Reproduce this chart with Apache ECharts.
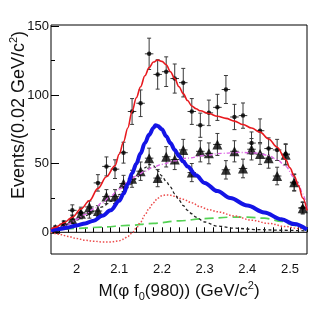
<!DOCTYPE html>
<html><head><meta charset="utf-8">
<script src="https://cdn.jsdelivr.net/npm/echarts@6/dist/echarts.min.js"></script>
<style>html,body{margin:0;padding:0;background:#fff}#c{width:332px;height:318px}</style>
</head><body><div id="c"></div>
<script>
// ---- data ----
const binCenters = [1.95,1.97,1.99,2.01,2.03,2.05,2.07,2.09,2.11,2.13,2.15,2.17,2.19,2.21,2.23,2.25,2.27,2.29,2.31,2.33,2.35,2.37,2.39,2.41,2.43,2.45,2.47,2.49,2.51,2.53];
const crossY   = [3,6,16,14.5,14,36,48,46,58,88,94,130,115,117,112,109,88,78,87,91,104,84,85,65,74,61,60,57,36,18];
const crossErr = [1.7,2.4,4,3.8,3.7,6,6.9,6.8,7.6,9.4,9.7,11.4,10.7,10.8,10.6,10.4,9.4,8.8,9.3,9.5,10.2,9.2,9.2,8.1,8.6,7.8,7.7,7.5,6,4.2];
const triY     = [2.5,5.5,9.5,13.5,18.5,15.5,26,26,35.5,39,44.5,54,39.5,55,53,60,43.5,59,57.5,64,45.5,59,46.5,60.5,57,54,41,56.5,36.5,17.5];
const triErr   = [1.6,2.3,3.1,3.7,4.3,3.9,5.1,5.1,6,6.2,6.7,7.3,6.3,7.4,7.3,7.7,6.6,7.7,7.6,8,6.7,7.7,6.8,7.8,7.5,7.3,6.4,7.5,6,4.2];
const binHalfWidth = 0.01;

const totalFit = [[1.94,2.5],[1.95,3.6],[1.97,7],[1.99,11],[2.01,17],[2.03,23],[2.05,32],[2.07,40.5],[2.09,48.5],[2.10,57],[2.11,66],[2.12,76],[2.13,88],[2.14,98],[2.15,106],[2.16,114],[2.17,120],[2.18,124],[2.19,125.5],[2.20,124.5],[2.21,122],[2.22,117],[2.23,112],[2.24,106],[2.25,101],[2.26,96],[2.27,92],[2.28,90],[2.29,88.5],[2.31,86.5],[2.33,84.5],[2.35,83],[2.37,81],[2.39,78.5],[2.41,76],[2.43,73],[2.45,68],[2.47,62],[2.49,53],[2.50,47],[2.51,41],[2.52,34],[2.53,25],[2.54,16]];
const signalX = [[1.94,1.5],[1.96,2.5],[1.98,3.5],[2.00,5],[2.02,6.5],[2.04,8.5],[2.06,12],[2.08,16],[2.10,23],[2.11,28],[2.12,35],[2.13,43],[2.14,50],[2.15,57.5],[2.16,65],[2.17,71],[2.18,76],[2.185,78],[2.19,77.5],[2.20,75],[2.21,70],[2.22,65],[2.23,60],[2.24,55.5],[2.25,51.5],[2.26,48],[2.28,41.5],[2.30,36],[2.33,30],[2.36,25],[2.40,19.5],[2.44,14.5],[2.48,9.5],[2.51,6],[2.54,2]];
const blackDashed = [[1.94,1.5],[1.96,3.5],[1.98,6],[2.00,9],[2.02,12],[2.04,15],[2.06,18.5],[2.08,22.5],[2.10,27.5],[2.12,33],[2.14,39],[2.15,43],[2.16,47],[2.17,49.5],[2.18,48.5],[2.19,45],[2.20,41],[2.21,37],[2.22,33],[2.23,28],[2.24,23.5],[2.25,19.5],[2.26,16],[2.27,13.5],[2.28,11],[2.30,7.5],[2.33,4.5],[2.37,3],[2.42,2],[2.48,1.5],[2.54,1]];
const magentaCurve = [[1.94,1],[1.96,3],[1.98,6],[2.00,9.5],[2.02,13],[2.04,17],[2.06,21.5],[2.08,26.5],[2.10,31.5],[2.12,36.5],[2.14,41],[2.16,44.5],[2.18,47.5],[2.20,49.5],[2.23,52],[2.26,54],[2.30,56],[2.34,57.5],[2.38,58.2],[2.42,57.8],[2.45,56],[2.47,53],[2.49,48],[2.51,40],[2.52,35],[2.53,28],[2.54,17]];
const greenCurve = [[1.94,1.5],[2.00,2.8],[2.06,3.8],[2.12,5],[2.18,6.5],[2.24,8.3],[2.30,10],[2.36,11],[2.40,11],[2.44,10.3],[2.48,8],[2.51,5],[2.54,1.5]];
const redDotted = [[1.94,0],[1.96,-1.5],[1.98,-3],[2.00,-4.5],[2.02,-5.8],[2.04,-6.5],[2.06,-7],[2.08,-7],[2.10,-6.2],[2.11,-5],[2.12,-3],[2.13,-0.5],[2.14,3],[2.15,7.5],[2.16,12.5],[2.17,17.5],[2.18,21.5],[2.19,24.8],[2.20,26.7],[2.21,27.2],[2.22,27],[2.23,26.2],[2.25,24],[2.27,21.5],[2.29,18.6],[2.31,16.5],[2.33,15],[2.37,11.9],[2.41,8.8],[2.45,6.5],[2.49,4.2],[2.52,2.8],[2.54,2]];

const xTickLabelValues = [2.0,2.1,2.2,2.3,2.4,2.5];
const xTickLabels = ['2','2.1','2.2','2.3','2.4','2.5'];
const yTickLabelValues = [0,50,100,150];
const yMinorTicks = [25,75,125];

// ---- build ----
const xMinorTicks = [];
for (let i = 0; i < 30; i++) xMinorTicks.push(Math.round((1.96 + 0.02*i)*100)/100);

const FONT = '"Liberation Sans", Arial, sans-serif';
const chart = echarts.init(document.getElementById('c'), null, {renderer:'canvas'});

function errRender(params, api) {
  const x = api.value(0), y = api.value(1), e = api.value(2);
  const t = api.coord([x, y + e]), b = api.coord([x, y - e]);
  const l = api.coord([x - binHalfWidth, y]), r = api.coord([x + binHalfWidth, y]);
  const st = {stroke:'#3a3a3a', lineWidth:1};
  const c = 2;
  return {type:'group', children:[
    {type:'line', shape:{x1:t[0],y1:t[1],x2:b[0],y2:b[1]}, style:st},
    {type:'line', shape:{x1:t[0]-c,y1:t[1],x2:t[0]+c,y2:t[1]}, style:st},
    {type:'line', shape:{x1:b[0]-c,y1:b[1],x2:b[0]+c,y2:b[1]}, style:st},
    {type:'line', shape:{x1:l[0],y1:l[1],x2:r[0],y2:r[1]}, style:st}
  ]};
}

const crossData = binCenters.map((x,i)=>[x, crossY[i], crossErr[i]]);
const triData = binCenters.map((x,i)=>[x, triY[i], triErr[i]]);

function curve(data, color, width, type, z) {
  return {type:'line', data:data, showSymbol:false, symbol:'none', smooth:0.35, smoothMonotone:'x',
    lineStyle:{color:color, width:width, type:type}, z:z, silent:true, clip:true};
}

const option = {
  animation:false,
  grid:{left:51, top:25, right:25, bottom:64, show:true, borderColor:'#000', borderWidth:1, backgroundColor:'transparent'},
  xAxis:{type:'value', min:1.94, max:2.54,
    axisLine:{show:false},
    axisTick:{show:true, inside:true, length:5, customValues:xMinorTicks, lineStyle:{color:'#000'}},
    axisLabel:{customValues:xTickLabelValues, margin:9, fontSize:13, color:'#111', fontFamily:FONT,
      formatter:(v)=>{const i = xTickLabelValues.findIndex(t=>Math.abs(t-v)<1e-6); return i>=0?xTickLabels[i]:'';}},
    splitLine:{show:false}},
  yAxis:[
    {type:'value', min:-15.8, max:151, position:'left',
      axisLine:{show:false},
      axisTick:{show:true, inside:true, length:8, customValues:yTickLabelValues, lineStyle:{color:'#000'}},
      axisLabel:{customValues:yTickLabelValues, margin:2, fontSize:13, color:'#111', fontFamily:FONT},
      splitLine:{show:false}},
    {type:'value', min:-15.8, max:151, position:'left',
      axisLine:{show:false},
      axisTick:{show:true, inside:true, length:4, customValues:yMinorTicks, lineStyle:{color:'#000'}},
      axisLabel:{show:false}, splitLine:{show:false}}
  ],
  series:[
    {type:'line', data:[[1.94,0],[2.54,0]], symbol:'none', lineStyle:{color:'#000', width:1}, z:1, silent:true},
    {type:'custom', renderItem:errRender, data:crossData, z:2, silent:true},
    {type:'custom', renderItem:errRender, data:triData, z:2, silent:true},
    {type:'scatter', data:crossData, symbol:'circle', symbolSize:4.5, itemStyle:{color:'#000'}, z:3, silent:true},
    {type:'scatter', data:triData, symbol:'triangle', symbolSize:10, itemStyle:{color:'#000'}, z:3, silent:true},
    curve(greenCurve, '#55d255', 1.7, [9,5], 4),
    curve(redDotted, '#ec4a4a', 1.5, [1.5,1.8], 4),
    curve(blackDashed, '#222', 1.3, [3,2.5], 4),
    curve(magentaCurve, '#dd66e6', 1.4, [4,2,1,2], 4),
    curve(signalX, '#1414e6', 4, 'solid', 5),
    curve(totalFit, '#e8191e', 1.6, 'solid', 6)
  ],
  graphic:[
    {type:'text', x:179, y:291, silent:true, style:{
      text:'{m|M(φ f}{s|0}{m|(980)) (GeV/c}{p|2}{m|)}',
      align:'center', verticalAlign:'middle',
      rich:{
        m:{fontSize:17, fontFamily:FONT, fill:'#111', lineHeight:22, verticalAlign:'middle'},
        s:{fontSize:11, fontFamily:FONT, fill:'#111', lineHeight:11, verticalAlign:'bottom'},
        p:{fontSize:11, fontFamily:FONT, fill:'#111', lineHeight:15, verticalAlign:'top'}
      }}},
    {type:'text', x:19, y:115, rotation:Math.PI/2, silent:true, style:{
      text:'{m|Events/(0.02 GeV/c}{p|2}{m|)}',
      align:'center', verticalAlign:'middle',
      rich:{
        m:{fontSize:18, fontFamily:FONT, fill:'#111', lineHeight:22, verticalAlign:'middle'},
        p:{fontSize:11, fontFamily:FONT, fill:'#111', lineHeight:15, verticalAlign:'top'}
      }}}
  ]
};
chart.setOption(option);
</script>
</body></html>
